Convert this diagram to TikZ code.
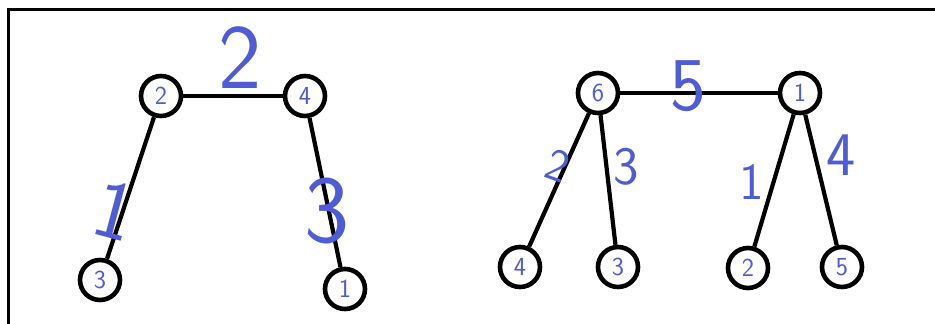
\documentclass[tikz,border=0pt]{standalone}
\usepackage{fontspec}
\begin{document}
\definecolor{ink}{RGB}{78,92,214}
\begin{tikzpicture}[x=1pt,y=-1pt,
  vertex/.style={circle,draw=black,line width=4.6pt,minimum size=40pt,inner sep=0pt,
    text=ink,font=\sffamily\fontsize{26}{26}\selectfont},
  edge/.style={draw=black,line width=4.2pt},
  weight/.style={text=ink,inner sep=0pt,font=\sffamily\fontsize{#1}{#1}\selectfont},
  weight/.default=48]
  % canvas and frame
  \useasboundingbox (0,0) rectangle (935,324);
  \fill[white] (0,0) rectangle (935,324);
  \draw[line width=3pt] (8,324) -- (8,9) -- (935,9);

  % first tree
  \node[vertex] (a2) at (161,96) {2};
  \node[vertex] (a4) at (305,96) {4};
  \node[vertex] (a3) at (100,280) {3};
  \node[vertex] (a1) at (345,289) {1};
  \draw[edge] (a2) -- (a4);
  \draw[edge] (a2) -- (a3);
  \draw[edge] (a4) -- (a1);
  \node[weight=92] (w24) at (240,58) {2};
  \node[weight=84,rotate=-15] (w23) at (115,210) {1};
  \node[weight=96] (w41) at (327,211) {3};

  % second tree
  \node[vertex] (b6) at (598,93) {6};
  \node[vertex] (b1) at (800,93) {1};
  \node[vertex] (b4) at (520,267) {4};
  \node[vertex] (b3) at (618,267) {3};
  \node[vertex] (b2) at (748,268) {2};
  \node[vertex] (b5) at (842,267) {5};
  \draw[edge] (b6) -- (b1);
  \draw[edge] (b6) -- (b4);
  \draw[edge] (b6) -- (b3);
  \draw[edge] (b1) -- (b2);
  \draw[edge] (b1) -- (b5);
  \node[weight=76] (w61) at (688,86) {5};
  \node[weight=46,rotate=-20] (w64) at (558,166) {2};
  \node[weight=54] (w63) at (626,167) {3};
  \node[weight=52] (w12) at (752,182) {1};
  \node[weight=62] (w15) at (841,155) {4};
\end{tikzpicture}
\end{document}
